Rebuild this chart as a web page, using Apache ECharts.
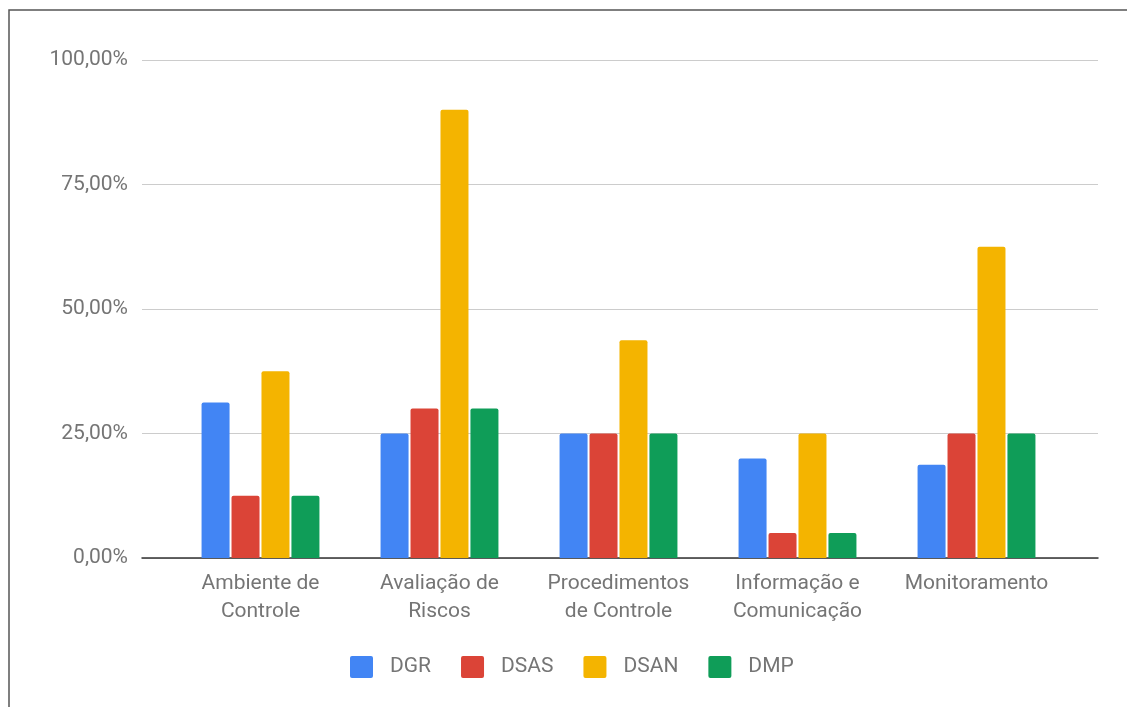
<!DOCTYPE html>
<html>
<head>
<meta charset="utf-8">
<title>Componentes do Controle Interno por Diretoria</title>
<script src="https://cdn.jsdelivr.net/npm/echarts@6/dist/echarts.min.js"></script>
<style>
  html, body { margin: 0; padding: 0; background: #ffffff; }
  #chart { width: 1127px; height: 707px; }
</style>
</head>
<body>
<div id="chart"></div>
<script>
// Categories (control components) and the share reached by each directorate
const categories = [
  'Ambiente de\nControle',
  'Avaliação de\nRiscos',
  'Procedimentos\nde Controle',
  'Informação e\nComunicação',
  'Monitoramento'
];
const seriesNames = ['DGR', 'DSAS', 'DSAN', 'DMP'];
const dgr  = [0.3125, 0.25, 0.25,   0.20, 0.1875];
const dsas = [0.125,  0.30, 0.25,   0.05, 0.25];
const dsan = [0.375,  0.90, 0.4375, 0.25, 0.625];
const dmp  = [0.125,  0.30, 0.25,   0.05, 0.25];
const yTicks = [0, 0.25, 0.5, 0.75, 1];

const colors = ['#4285F4', '#DB4437', '#F4B400', '#0F9D58'];
const textColor = '#757575';
const fontFamily = 'Roboto, "Noto Sans", sans-serif';

const fmtPct = v => (v * 100).toFixed(2).replace('.', ',') + '%';

// legend swatch: square with slightly rounded corners
const swatch = 'path://M2,0 H21 A2,2 0 0 1 23,2 V20 A2,2 0 0 1 21,22 H2 A2,2 0 0 1 0,20 V2 A2,2 0 0 1 2,0 Z';

const chart = echarts.init(document.getElementById('chart'), null, { renderer: 'canvas' });

const values = [dgr, dsas, dsan, dmp];

chart.setOption({
  backgroundColor: '#ffffff',
  animation: false,
  textStyle: { fontFamily: fontFamily },
  color: colors,
  grid: [
    // full-width frame carrying the value scale, gridlines and baseline
    { left: 142, right: 29, top: 60, bottom: 149 },
    // inner band where the category groups sit
    { left: 171, right: 61, top: 60, bottom: 149 }
  ],
  xAxis: [
    {
      gridIndex: 0, type: 'value', min: 0, max: 1,
      axisLine: { show: true, lineStyle: { color: '#333333', width: 1.5 } },
      axisTick: { show: false }, axisLabel: { show: false }, splitLine: { show: false }
    },
    {
      gridIndex: 1, type: 'category', data: categories,
      axisLine: { show: false }, axisTick: { show: false }, splitLine: { show: false },
      axisLabel: {
        interval: 0, margin: 12, color: textColor, fontSize: 21, lineHeight: 28,
        fontFamily: fontFamily
      }
    }
  ],
  yAxis: [
    {
      gridIndex: 0, type: 'value', min: yTicks[0], max: yTicks[yTicks.length - 1], interval: 0.25,
      axisLine: { show: false }, axisTick: { show: false },
      axisLabel: { margin: 14, color: textColor, fontSize: 21, fontFamily: fontFamily, formatter: fmtPct },
      splitLine: { show: true, lineStyle: { color: '#cccccc', width: 1 } }
    },
    {
      gridIndex: 1, type: 'value', min: yTicks[0], max: yTicks[yTicks.length - 1],
      axisLine: { show: false }, axisTick: { show: false },
      axisLabel: { show: false }, splitLine: { show: false }
    }
  ],
  legend: {
    data: seriesNames,
    left: 345, top: 651,
    itemWidth: 23, itemHeight: 22, itemGap: 30,
    icon: swatch,
    textStyle: { color: textColor, fontSize: 21, fontFamily: fontFamily, padding: [0, 0, 0, 12] }
  },
  series: seriesNames.map((name, i) => ({
    name: name,
    type: 'bar',
    xAxisIndex: 1,
    yAxisIndex: 1,
    data: values[i],
    barWidth: 28,
    barGap: '7%',
    itemStyle: { color: colors[i], borderRadius: [2, 2, 0, 0] }
  })),
  graphic: [
    {
      type: 'polyline',
      silent: true,
      shape: { points: [[9, 707], [9, 10], [1127, 10]] },
      style: { stroke: '#555555', lineWidth: 1.5, fill: null }
    }
  ]
});
</script>
</body>
</html>
